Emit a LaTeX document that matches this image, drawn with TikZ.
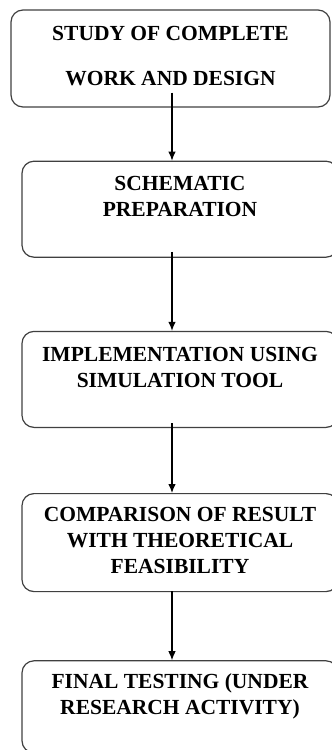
\documentclass[tikz,border=0pt]{standalone}
\usepackage{fontspec}
\setmainfont{Liberation Serif}
\usetikzlibrary{arrows.meta, positioning}

\begin{document}
\begin{tikzpicture}[
  x=1pt, y=1pt,
  >={Latex[length=9pt, width=7.5pt]},
  stepbox/.style={draw=black!75, line width=1.2pt, rounded corners=12pt, minimum width=316pt, align=center, inner sep=0pt,
    font=\fontsize{21.5}{26}\selectfont\bfseries},
  flow/.style={->, line width=1.1pt, black}
]
\useasboundingbox (0,0) rectangle (332,-750);

\node[stepbox, minimum width=319pt, minimum height=97pt] (Study) at (170.5,-58.5) {STUDY OF COMPLETE\\[19pt]WORK AND DESIGN\\[-21pt]\mbox{}};
\node[stepbox, minimum height=96pt] (Schem) [below=53pt of Study, xshift=9.5pt] {SCHEMATIC\\PREPARATION\\\mbox{}};
\node[stepbox, minimum height=96pt] (Impl) [below=73pt of Schem] {IMPLEMENTATION USING\\SIMULATION TOOL\\[-1pt]\mbox{}};
\node[stepbox, minimum height=98pt] (Comp) [below=65pt of Impl] {COMPARISON OF RESULT\\WITH THEORETICAL\\FEASIBILITY\\[-22pt]\mbox{}};
\node[stepbox, minimum height=92pt] (Final) [below=68pt of Comp] {FINAL TESTING (UNDER\\RESEARCH ACTIVITY)\\[0pt]\mbox{}};

\draw[flow] ([xshift=1.5pt, yshift=15pt]Study.south) -- ([xshift=-8pt]Schem.north);
\draw[flow] ([xshift=-8pt, yshift=6pt]Schem.south) -- ([xshift=-8pt]Impl.north);
\draw[flow] ([xshift=-8pt, yshift=5pt]Impl.south) -- ([xshift=-8pt]Comp.north);
\draw[flow] ([xshift=-8pt, yshift=1pt]Comp.south) -- ([xshift=-8pt]Final.north);
\end{tikzpicture}
\end{document}
